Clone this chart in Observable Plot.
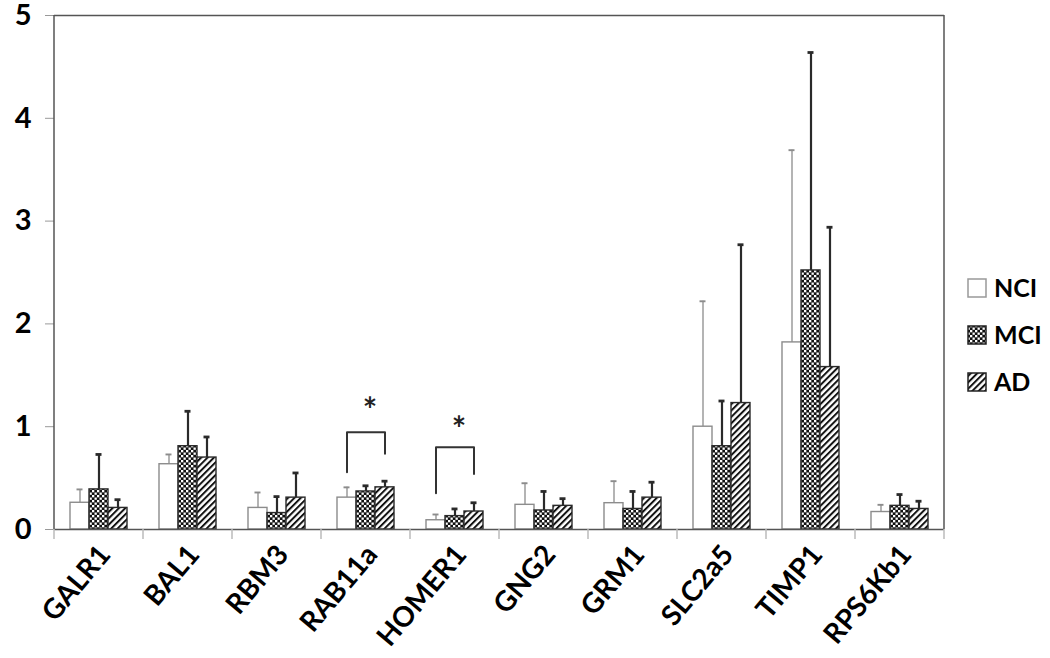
<!DOCTYPE html>
<html><head><meta charset="utf-8">
<script src="https://cdn.jsdelivr.net/npm/d3@7"></script>
<script src="https://cdn.jsdelivr.net/npm/@observablehq/plot@0.6"></script>
<style>body{margin:0;background:#fff;} #chart{width:1050px;height:658px;}</style>
</head><body><div id="chart"></div>
<script>
const genes = ["GALR1","BAL1","RBM3","RAB11a","HOMER1","GNG2","GRM1","SLC2a5","TIMP1","RPS6Kb1"];
const groups = ["NCI","MCI","AD"];
const nciMean = [0.26,0.635,0.21,0.31,0.09,0.24,0.256,1.0,1.82,0.17];
const nciErr  = [0.13,0.095,0.15,0.10,0.056,0.21,0.214,1.22,1.87,0.07];
const mciMean = [0.39,0.81,0.16,0.37,0.13,0.185,0.20,0.81,2.52,0.23];
const mciErr  = [0.34,0.34,0.16,0.055,0.07,0.185,0.17,0.44,2.12,0.11];
const adMean  = [0.21,0.70,0.31,0.41,0.175,0.23,0.31,1.23,1.58,0.20];
const adErr   = [0.08,0.20,0.24,0.06,0.085,0.07,0.15,1.54,1.36,0.075];
const yTicks = [0,1,2,3,4,5];
const sigGenes = ["RAB11a","HOMER1"];
const sigTop   = [0.946,0.80];
const sigLeft  = [0.557,0.353];
const sigRight = [0.736,0.54];
const sigStar  = [1.15,0.97];

const means = {NCI:nciMean, MCI:mciMean, AD:adMean};
const errs = {NCI:nciErr, MCI:mciErr, AD:adErr};
const rows = [];
genes.forEach((g,i)=>groups.forEach(k=>rows.push({gene:g, group:k, mean:means[k][i], upper:means[k][i]+errs[k][i]})));
const fills = {NCI:"white", MCI:"url(#pat-checker)", AD:"url(#pat-hatch)"};
const strokes = {NCI:"#8c8c8c", MCI:"#2a2a2a", AD:"#2a2a2a"};
const errW = {NCI:1.3, MCI:2.2, AD:2.2};

const bracketPts = [];
sigGenes.forEach((g,i)=>{
  bracketPts.push({gene:g,group:"NCI",y:sigLeft[i]},{gene:g,group:"NCI",y:sigTop[i]},
                  {gene:g,group:"AD",y:sigTop[i]},{gene:g,group:"AD",y:sigRight[i]});
});
const stars = sigGenes.map((g,i)=>({gene:g, group:"MCI", y:sigStar[i]}));

const groupMarks = groups.flatMap(k=>{
  const d = rows.filter(r=>r.group===k);
  return [
    Plot.ruleX(d, {fx:"gene", x:"group", y1:"mean", y2:"upper", stroke:strokes[k], strokeWidth:errW[k]}),
    Plot.tickY(d, {fx:"gene", x:"group", y:"upper", insetLeft:6.5, insetRight:6.5, stroke:strokes[k], strokeWidth:errW[k]+0.6}),
    Plot.barY(d, {fx:"gene", x:"group", y:"mean", fill:fills[k], stroke:strokes[k], strokeWidth:1.4})
  ];
});

const FONT = "Lato, 'Open Sans', sans-serif";
const plot = Plot.plot({
  width:1050, height:658, marginLeft:52, marginRight:105, marginTop:15, marginBottom:129,
  style:{fontFamily:FONT, background:"white", overflow:"visible"},
  fx:{domain:genes, paddingInner:0, paddingOuter:0, label:null},
  x:{domain:groups, paddingInner:0, paddingOuter:0.7325, axis:null},
  y:{domain:[0,5], label:null},
  marks:[
    Plot.ruleY([5], {stroke:"#555", strokeWidth:1.5}),
    ...groupMarks,
    Plot.line(bracketPts, {fx:"gene", x:"group", y:"y", z:"gene", stroke:"#333", strokeWidth:2}),
    Plot.text(stars, {fx:"gene", x:"group", y:"y", text:()=>"*", fontSize:34, fontWeight:"bold", fill:"#222", dx:4}),
    Plot.ruleY([0], {stroke:"#555", strokeWidth:1.5}),
    Plot.axisY({ticks:yTicks, tickFormat:d3.format("d"), tickSize:9, tickPadding:14, fontSize:29, fontWeight:"bold", stroke:"#999", fill:"black", label:null}),
    Plot.axisFx({anchor:"bottom", tickRotate:-50, tickSize:0, tickPadding:20, dx:6, fontSize:28, fontWeight:"bold", fill:"black", label:null})
  ]
});
document.getElementById("chart").appendChild(plot);

const svg = d3.select(plot);
const defs = svg.insert("defs", ":first-child");
const pc = defs.append("pattern").attr("id","pat-checker").attr("patternUnits","userSpaceOnUse").attr("width",5).attr("height",5);
pc.append("rect").attr("width",5).attr("height",5).attr("fill","#111");
pc.append("rect").attr("width",2.3).attr("height",2.3).attr("fill","#fff");
pc.append("rect").attr("x",2.5).attr("y",2.5).attr("width",2.3).attr("height",2.3).attr("fill","#fff");
const ph = defs.append("pattern").attr("id","pat-hatch").attr("patternUnits","userSpaceOnUse").attr("width",4.5).attr("height",4.5).attr("patternTransform","rotate(45)");
ph.append("rect").attr("width",4.5).attr("height",4.5).attr("fill","#fff");
ph.append("rect").attr("width",2).attr("height",4.5).attr("fill","#111");

const fxS = plot.scale("fx"), yS = plot.scale("y");
const y0 = yS.apply(0), y5 = yS.apply(5);
const edges = genes.map(g=>fxS.apply(g));
edges.push(edges[edges.length-1] + fxS.bandwidth);
const deco = svg.append("g");
deco.selectAll("line.bt").data(edges).join("line").attr("x1",d=>d).attr("x2",d=>d).attr("y1",y0).attr("y2",y0+10).attr("stroke","#bbb").attr("stroke-width",1.5);
[edges[0], edges[edges.length-1]].forEach(x=>deco.append("line").attr("x1",x).attr("x2",x).attr("y1",y5).attr("y2",y0).attr("stroke","#555").attr("stroke-width",1.5));

const leg = svg.append("g").attr("font-family",FONT).attr("font-weight","bold").attr("font-size",25).attr("text-anchor","start");
const legY = [288,335,382];
groups.forEach((k,i)=>{
  leg.append("rect").attr("x",968).attr("y",legY[i]-9).attr("width",18).attr("height",18).attr("fill",fills[k]).attr("stroke",k==="NCI"?"#999":"#222").attr("stroke-width",1.5);
  leg.append("text").attr("x",994).attr("y",legY[i]+9).text(k);
});
</script></body></html>
